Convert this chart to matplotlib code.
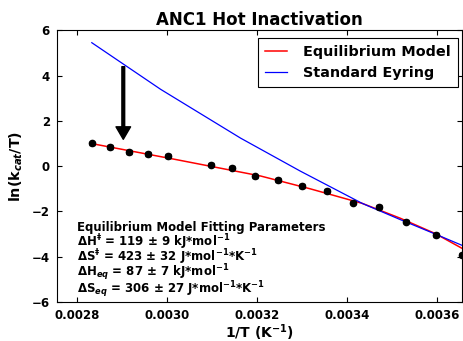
import matplotlib
matplotlib.use("Agg")
import matplotlib.pyplot as plt

plt.rcParams['font.family'] = ['DejaVu Sans']
plt.rcParams['font.weight'] = 'bold'
plt.rcParams['axes.labelweight'] = 'bold'
plt.rcParams['axes.titleweight'] = 'bold'

# Measured rates: 1/T (K^-1) and ln(kcat/T)
inv_T = [0.002832, 0.002872, 0.002915, 0.002957, 0.003001, 0.003096, 0.003144,
         0.003194, 0.003246, 0.003300, 0.003356, 0.003412, 0.003470, 0.003531,
         0.003597, 0.003656]
ln_k = [1.01, 0.84, 0.64, 0.53, 0.45, 0.07, -0.06, -0.45, -0.61, -0.87, -1.10,
        -1.61, -1.79, -2.45, -3.04, -3.92]
ln_k_err = [0.08] * len(ln_k)

# Equilibrium model fit curve
eq_x = [0.002832, 0.003018, 0.003207, 0.003318, 0.003433, 0.003518, 0.003596, 0.003658]
eq_y = [1.00, 0.30, -0.43, -1.00, -1.64, -2.30, -2.98, -3.66]

# Standard Eyring curve
ey_x = [0.002832, 0.002985, 0.003163, 0.003296, 0.003433, 0.003518, 0.003596, 0.003658]
ey_y = [5.46, 3.40, 1.24, -0.22, -1.64, -2.36, -3.00, -3.52]

x_ticks = [0.0028, 0.0030, 0.0032, 0.0034, 0.0036]
y_ticks = [-6, -4, -2, 0, 2, 4, 6]

fit_lines = [
    'Equilibrium Model Fitting Parameters',
    r'ΔH$^{\ddagger}$ = 119 ± 9 kJ*mol$^{-1}$',
    r'ΔS$^{\ddagger}$ = 423 ± 32 J*mol$^{-1}$*K$^{-1}$',
    r'ΔH$_{eq}$ = 87 ± 7 kJ*mol$^{-1}$',
    r'ΔS$_{eq}$ = 306 ± 27 J*mol$^{-1}$*K$^{-1}$',
]
fit_line_y = [-2.86, -3.53, -4.22, -4.88, -5.60]

fig = plt.figure(figsize=(4.63, 3.41), dpi=100)
ax = fig.add_axes([0.1225, 0.1144, 0.8743, 0.7962])

ax.plot(eq_x, eq_y, color='red', lw=1.1, label='Equilibrium Model', zorder=3)
ax.plot(ey_x, ey_y, color='blue', lw=0.9, label='Standard Eyring', zorder=3)
ax.errorbar(inv_T, ln_k, yerr=ln_k_err, fmt='o', color='black', ms=4.5,
            capsize=2, elinewidth=1, zorder=4)

ax.annotate('', xy=(0.002902, 1.19), xytext=(0.002902, 4.40),
            arrowprops=dict(facecolor='black', edgecolor='black', width=2,
                            headwidth=10.5, headlength=9, shrink=0))

for txt, yy in zip(fit_lines, fit_line_y):
    ax.text(0.0028, yy, txt, fontsize=8.5, fontweight='bold', va='baseline', ha='left')

ax.set_xlim(0.002754, 0.003654)
ax.set_ylim(-6, 6)
ax.set_xticks(x_ticks)
ax.set_xticklabels([f'{v:.4f}' for v in x_ticks])
ax.set_yticks(y_ticks)
ax.set_yticklabels([f'{v:d}'.replace('-', '\u2212') for v in y_ticks])
ax.tick_params(direction='in', top=True, right=True, length=3.5, width=0.8,
               labelsize=8.5, pad=5)
for s in ax.spines.values():
    s.set_linewidth(0.8)

ax.set_title('ANC1 Hot Inactivation', fontsize=12, pad=4)
ax.set_xlabel(r'1/T (K$^{-1}$)', fontsize=10, labelpad=0)
ax.set_ylabel(r'ln(k$_{cat}$/T)', fontsize=10.3, labelpad=5)

leg = ax.legend(loc='upper right', bbox_to_anchor=(0.9906, 0.9713), borderaxespad=0,
                fancybox=False, framealpha=1, edgecolor='black',
                prop={'size': 10.4, 'weight': 'bold'}, handlelength=1.5,
                handletextpad=1.1, borderpad=0.5, labelspacing=0.45)
leg.get_frame().set_linewidth(0.8)

fig.savefig('out.png', dpi=100)
